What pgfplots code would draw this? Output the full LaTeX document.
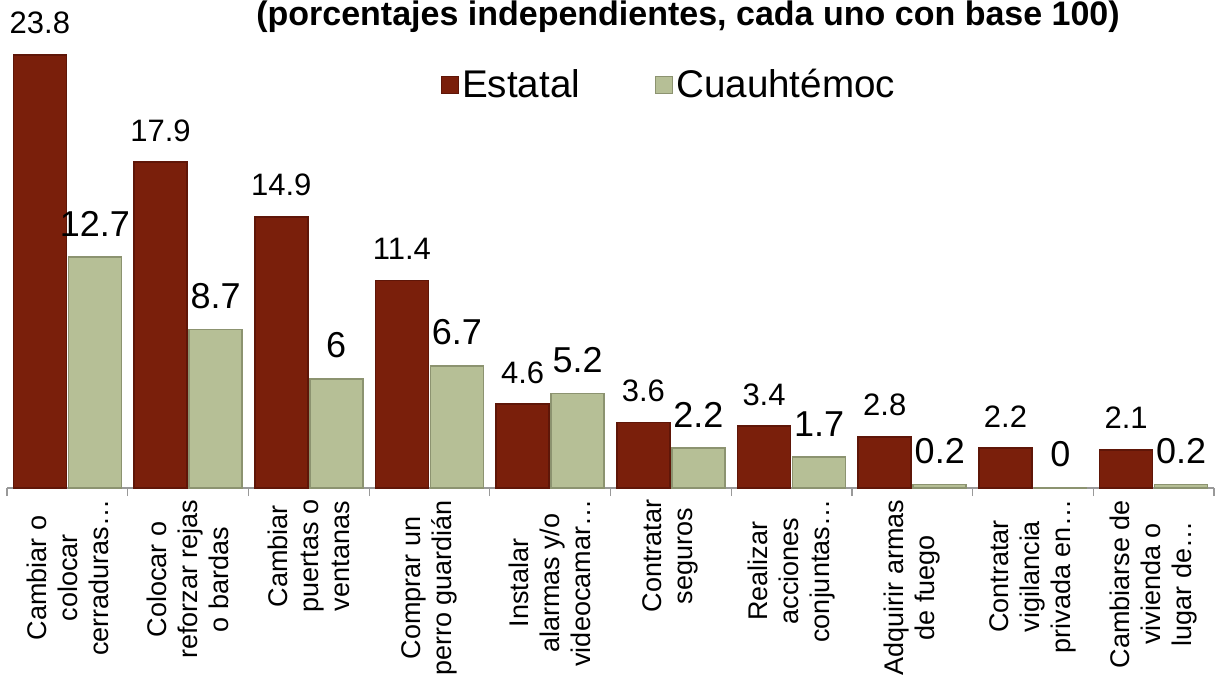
\documentclass[border=0pt]{standalone}
\usepackage{pgfplots}
\pgfplotsset{compat=1.18}
\usepackage{fontspec}
\setmainfont{Liberation Sans}
\definecolor{estatal}{RGB}{122,31,11}
\definecolor{estataledge}{RGB}{95,22,8}
\definecolor{cuau}{RGB}{182,191,150}
\definecolor{cuauedge}{RGB}{140,147,112}
\begin{document}
\begin{tikzpicture}
\begin{axis}[
  at={(3.5pt,-244pt)}, anchor=south west,
  scale only axis, width=603.5pt, height=236.6pt,
  xmin=-0.5, xmax=9.5, ymin=0, ymax=26,
  clip=false,
  ybar=1pt, bar width=26.5pt,
  axis x line*=bottom, axis y line=none,
  x axis line style={draw=gray!80, line width=0.6pt},
  xtick={0,...,9},
  major x tick style={draw=none},
  minor xtick={-0.5,0.5,...,9.5},
  minor x tick style={draw=gray!80, line width=0.6pt},
  minor tick length=4pt,
  tick align=outside,
  xticklabels={{Cambiar o\\colocar\\cerraduras…},{Colocar o\\reforzar rejas\\o bardas},{Cambiar\\puertas o\\ventanas},{Comprar un\\perro guardián},{Instalar\\alarmas y/o\\videocamar…},{Contratar\\seguros},{Realizar\\acciones\\conjuntas…},{Adquirir armas\\de fuego},{Contratar\\vigilancia\\privada en…},{Cambiarse de\\vivienda o\\lugar de…}},
  xticklabel style={rotate=90, anchor=east, align=center, inner xsep=1.5pt, inner ysep=0pt, font=\fontsize{13.5}{15.5}\selectfont},
  /pgf/number format/assume math mode=true,
  nodes near coords,
  legend columns=2,
  legend style={at={(axis description cs:0.549,0.852)}, anchor=center, draw=none, fill=none,
    font=\fontsize{19.3}{22}\selectfont, nodes={inner xsep=1.5pt},
    /tikz/every even column/.append style={column sep=36pt}},
  legend image code/.code={\draw[#1, line width=0.5pt] (0pt,-4.5pt) rectangle (8.5pt,4pt);},
]
\addplot[fill=estatal, draw=estataledge, line width=0.8pt,
  every node near coord/.append style={font=\fontsize{15.5}{18}\selectfont, text=black, inner sep=0pt, anchor=south, yshift=10pt}]
  coordinates {(0,23.8) (1,17.9) (2,14.9) (3,11.4) (4,4.6) (5,3.6) (6,3.4) (7,2.8) (8,2.2) (9,2.1)};
\addplot[fill=cuau, draw=cuauedge, line width=0.8pt,
  every node near coord/.append style={font=\fontsize{18}{21}\selectfont, text=black, inner sep=0pt, anchor=south, yshift=10pt}]
  coordinates {(0,12.7) (1,8.7) (2,6) (3,6.7) (4,5.2) (5,2.2) (6,1.7) (7,0.2) (8,0) (9,0.2)};
\legend{Estatal,Cuauhtémoc}
\end{axis}
\node[anchor=base, font=\bfseries\fontsize{17}{20}\selectfont, inner sep=0pt] at (344pt,-13pt) {(porcentajes independientes, cada uno con base 100)};
\pgfresetboundingbox
\path[use as bounding box] (0,0) rectangle (607.5pt,-339pt);
\end{tikzpicture}
\end{document}
